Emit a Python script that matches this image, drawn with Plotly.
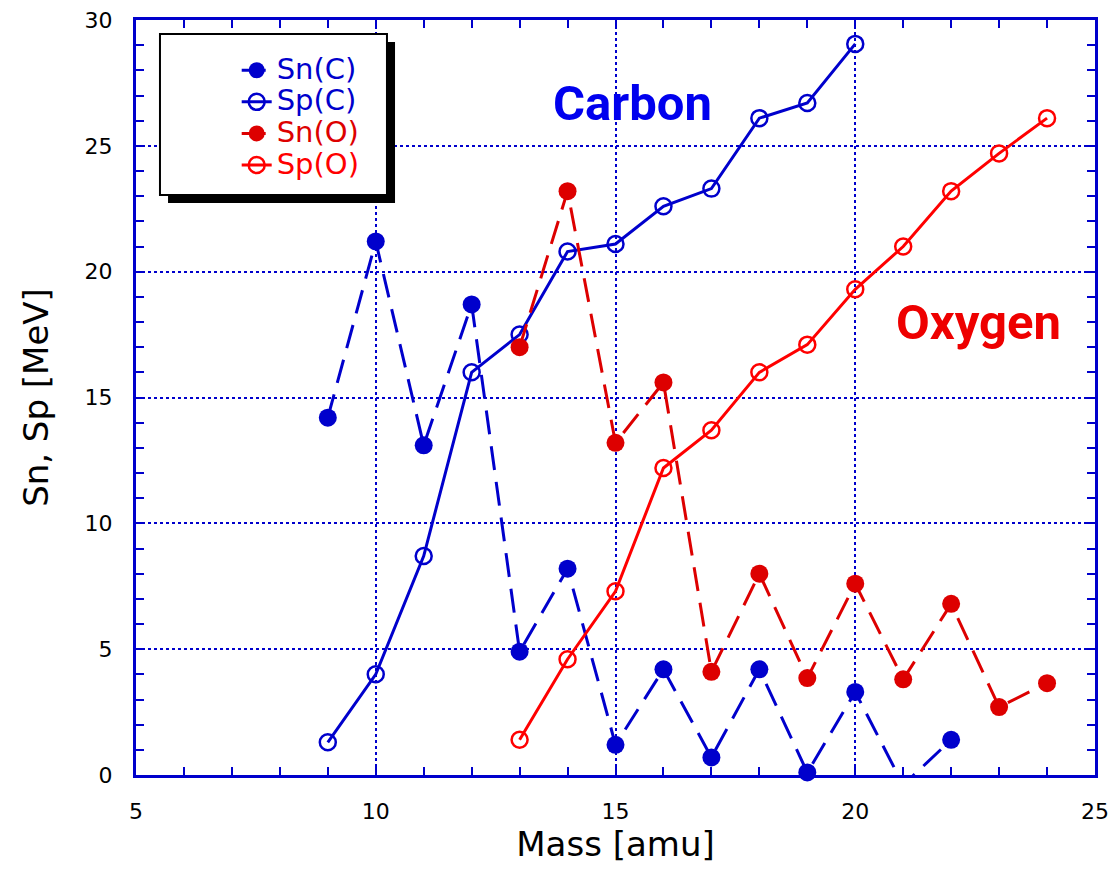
import plotly.graph_objects as go

# ---- data ----
mass_C = [9, 10, 11, 12, 13, 14, 15, 16, 17, 18, 19, 20, 21, 22]
Sn_C = [14.2, 21.2, 13.1, 18.7, 4.9, 8.2, 1.2, 4.2, 0.7, 4.2, 0.1, 3.3, -0.4, 1.4]
mass_Cp = [9, 10, 11, 12, 13, 14, 15, 16, 17, 18, 19, 20]
Sp_C = [1.3, 4.0, 8.7, 16.0, 17.5, 20.8, 21.1, 22.6, 23.3, 26.1, 26.7, 29.05]
mass_O = [13, 14, 15, 16, 17, 18, 19, 20, 21, 22, 23, 24]
Sn_O = [17.0, 23.2, 13.2, 15.6, 4.1, 8.0, 3.85, 7.6, 3.8, 6.8, 2.7, 3.65]
Sp_O = [1.4, 4.6, 7.3, 12.2, 13.7, 16.0, 17.1, 19.3, 21.0, 23.2, 24.7, 26.1]

BLUE = "#0000CC"
RED_F = "#DD0000"
RED_L = "#FF0000"
FONT = "DejaVu Sans"


def lname(txt, color):
    return f"<span style='color:{color};font-size:29px'>{txt}</span>"


fig = go.Figure()
fig.add_trace(go.Scatter(
    x=mass_C, y=Sn_C, mode="lines+markers",
    name=lname("Sn(C)", BLUE),
    line=dict(color=BLUE, width=3, dash="24px,12px"),
    marker=dict(symbol="circle", size=18, color=BLUE),
    cliponaxis=False))
fig.add_trace(go.Scatter(
    x=mass_Cp, y=Sp_C, mode="lines+markers",
    name=lname("Sp(C)", BLUE),
    line=dict(color=BLUE, width=3),
    marker=dict(symbol="circle-open", size=16, color=BLUE, line=dict(width=2.5)),
    cliponaxis=False))
fig.add_trace(go.Scatter(
    x=mass_O, y=Sn_O, mode="lines+markers",
    name=lname("Sn(O)", RED_F),
    line=dict(color=RED_F, width=3, dash="24px,12px"),
    marker=dict(symbol="circle", size=18, color=RED_F),
    cliponaxis=False))
fig.add_trace(go.Scatter(
    x=mass_O, y=Sp_O, mode="lines+markers",
    name=lname("Sp(O)", RED_L),
    line=dict(color=RED_L, width=3),
    marker=dict(symbol="circle-open", size=16, color=RED_L, line=dict(width=2.5)),
    cliponaxis=False))

axis_common = dict(
    showline=True, linecolor=BLUE, linewidth=3, mirror="ticks",
    ticks="inside", ticklen=8, tickwidth=2, tickcolor=BLUE,
    showgrid=True, gridcolor=BLUE, gridwidth=2, griddash="dot",
    zeroline=False, automargin=False,
    tickfont=dict(family=FONT, size=22, color="black"),
    minor=dict(ticks="inside", ticklen=8, tickwidth=2, tickcolor=BLUE,
               dtick=1, showgrid=False),
)

fig.update_xaxes(range=[5, 25], dtick=5, tick0=0,
                 title=dict(text="Mass [amu]", font=dict(family=FONT, size=34, color="black"), standoff=6),
                 ticklabelstandoff=15, **axis_common)
fig.update_yaxes(range=[0, 30], dtick=5, tick0=0,
                 title=dict(text="Sn, Sp [MeV]", font=dict(family=FONT, size=34, color="black"), standoff=26),
                 ticklabelstandoff=16, **axis_common)

# legend box with shadow
fig.add_shape(type="rect", xref="paper", yref="paper",
              x0=0.0334, x1=0.2701, y0=0.7576, y1=0.9709,
              fillcolor="black", line=dict(width=0), layer="above")
fig.add_shape(type="rect", xref="paper", yref="paper",
              x0=0.0250, x1=0.2617, y0=0.7682, y1=0.9815,
              fillcolor="white", line=dict(color="black", width=2), layer="above")

fig.add_annotation(x=15.35, y=26.7, text="<b>Carbon</b>", showarrow=False,
                   font=dict(family="Roboto", size=49, color="#0000EE"))
fig.add_annotation(x=22.56, y=18.0, text="<b>Oxygen</b>", showarrow=False,
                   font=dict(family="Roboto", size=49, color="#EE0000"))

fig.update_layout(
    width=1115, height=869,
    margin=dict(l=136, r=20, t=20, b=94),
    plot_bgcolor="white", paper_bgcolor="white",
    showlegend=True,
    legend=dict(x=0.105, y=0.961, xanchor="left", yanchor="top",
                bgcolor="rgba(0,0,0,0)", borderwidth=0,
                font=dict(family=FONT, size=22),
                tracegroupgap=0, itemwidth=30),
)

fig.write_html("out.html")
